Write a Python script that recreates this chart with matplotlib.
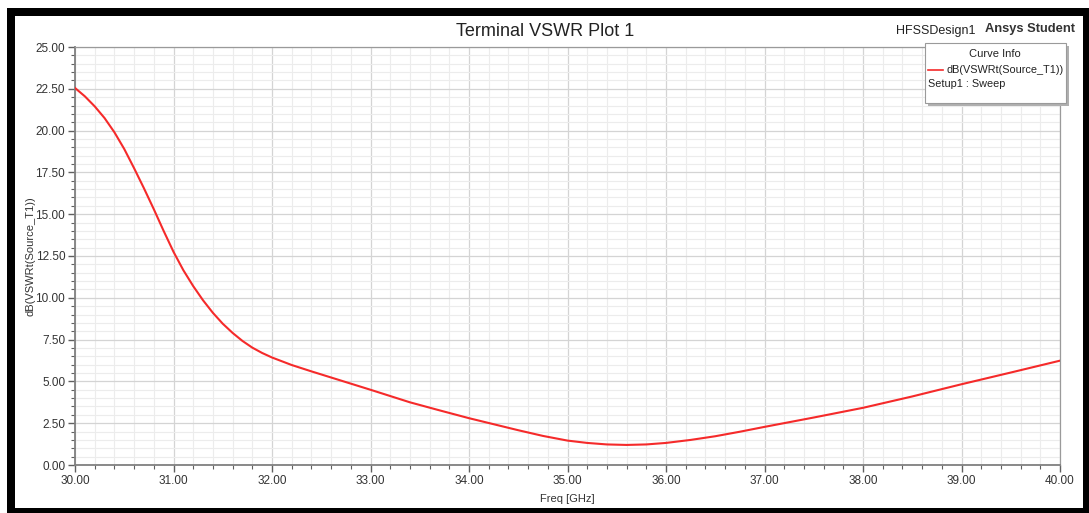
import matplotlib.pyplot as plt
from matplotlib.patches import Rectangle
from matplotlib.ticker import MultipleLocator, FormatStrFormatter

plt.rcParams['font.family'] = ['Liberation Sans', 'DejaVu Sans']

# values
freq = [30.0, 30.1, 30.2, 30.3, 30.4, 30.5, 30.6, 30.7, 30.8, 30.9, 31.0,
        31.1, 31.2, 31.3, 31.4, 31.5, 31.6, 31.7, 31.8, 31.9, 32.0,
        32.2, 32.4, 32.7, 33.0, 33.4, 33.7, 34.0, 34.5, 34.75, 35.0, 35.2, 35.4,
        35.6, 35.8, 36.0, 36.25, 36.5, 36.75, 37.0, 37.5, 38.0, 38.5, 39.0,
        39.5, 40.0]
vswr_db = [22.55, 22.05, 21.45, 20.75, 19.9, 18.9, 17.75, 16.55, 15.3, 14.0, 12.75,
           11.65, 10.7, 9.85, 9.1, 8.45, 7.9, 7.42, 7.02, 6.7, 6.43,
           5.98, 5.6, 5.05, 4.5, 3.75, 3.27, 2.8, 2.08, 1.74, 1.46, 1.32, 1.23,
           1.2, 1.23, 1.32, 1.5, 1.72, 1.99, 2.28, 2.84, 3.42, 4.1, 4.83,
           5.53, 6.24]
curve_name = "dB(VSWRt(Source_T1))"
setup_name = "Setup1 : Sweep"

W, H = 1089, 513
fig = plt.figure(figsize=(W / 100, H / 100), dpi=100)

def px(x, y):
    return x / W, 1 - y / H

# black frame around the whole plot window
black = dict(transform=fig.transFigure, facecolor='black', edgecolor='none', zorder=0)
fig.patches.append(Rectangle(px(7, 513), 8 / W, (513 - 8) / H, **black))
fig.patches.append(Rectangle(px(7, 16), (1089 - 7) / W, 8 / H, **black))
fig.patches.append(Rectangle(px(7, 513), (1089 - 7) / W, 5 / H, **black))
fig.patches.append(Rectangle(px(1083, 513), 6 / W, (513 - 8) / H, **black))

ax = fig.add_axes([75 / W, 1 - 465 / H, (1060 - 75) / W, (465 - 47) / H])
ax.plot(freq, vswr_db, color='#f52a2a', lw=1.5, zorder=3)

ax.set_xlim(30, 40)
ax.set_ylim(0, 25)
ax.xaxis.set_major_locator(MultipleLocator(1))
ax.xaxis.set_minor_locator(MultipleLocator(0.2))
ax.yaxis.set_major_locator(MultipleLocator(2.5))
ax.yaxis.set_minor_locator(MultipleLocator(0.5))
ax.xaxis.set_major_formatter(FormatStrFormatter('%.2f'))
ax.yaxis.set_major_formatter(FormatStrFormatter('%.2f'))

ax.grid(which='major', color='#d4d4d4', lw=0.9)
ax.grid(which='minor', color='#ececec', lw=0.8)
ax.set_axisbelow(True)

for s in ['left', 'bottom']:
    ax.spines[s].set_color('#808080')
    ax.spines[s].set_linewidth(1.3)
for s in ['top', 'right']:
    ax.spines[s].set_color('#9a9a9a')
    ax.spines[s].set_linewidth(0.9)

ax.tick_params(which='major', direction='out', length=5, width=1, color='#606060',
               labelsize=8.5, labelcolor='#333333', pad=2)
ax.tick_params(which='minor', direction='out', length=3, width=0.8, color='#606060')

ax.set_xlabel('Freq [GHz]', fontsize=8, color='#333333', labelpad=5)
ax.set_ylabel(curve_name, fontsize=8, color='#333333', labelpad=0)

fig.text(*px(545, 32), 'Terminal VSWR Plot 1', ha='center', va='center',
         fontsize=13, color='#222222')
fig.text(*px(936, 31), 'HFSSDesign1', ha='center', va='center', fontsize=9, color='#222222')
fig.text(*px(1030, 29), 'Ansys Student', ha='center', va='center', fontsize=9.3,
         color='#333333', fontweight='bold')

# curve info box with drop shadow
fig.patches.append(Rectangle(px(928, 106), (1069 - 928) / W, (106 - 46) / H,
                             transform=fig.transFigure, facecolor='#b0b0b0',
                             edgecolor='none', zorder=4))
fig.patches.append(Rectangle(px(925, 103), (1066 - 925) / W, (103 - 43) / H,
                             transform=fig.transFigure, facecolor='white',
                             edgecolor='#9a9a9a', lw=0.8, zorder=5))
fig.text(*px(995, 54), 'Curve Info', ha='center', va='center', fontsize=8, color='#222222', zorder=6)
fig.add_artist(plt.Line2D([928 / W, 943 / W], [1 - 69.5 / H, 1 - 69.5 / H],
                          color='#f52a2a', lw=1.2, zorder=6))
fig.text(*px(1064, 70), curve_name, ha='right', va='center', fontsize=7.8, color='#222222', zorder=6)
fig.text(*px(928, 84), setup_name, ha='left', va='center', fontsize=7.8, color='#222222', zorder=6)

fig.savefig('out.png', dpi=100)
